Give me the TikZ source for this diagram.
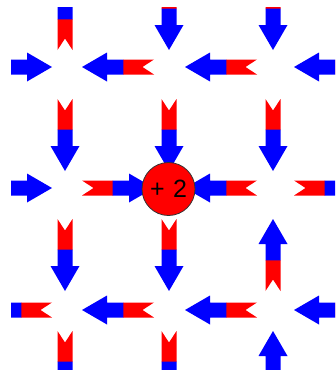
\documentclass[tikz,border=0pt]{standalone}
\usepackage{fontspec}
\usepackage{tikz}
\newfontfamily\chargefont{Liberation Sans}

\tikzset{
  spin/.pic={
    \fill[red] (-36,-7.5) -- (-5,-7.5) -- (-5,7.5) -- (-36,7.5) -- (-24.5,0) -- cycle;
    \fill[blue] (-5.3,-7.5) -- (11,-7.5) -- (11,-14.5) -- (36,0) -- (11,14.5) -- (11,7.5) -- (-5.3,7.5) -- cycle;
  },
  charge/.style={circle, fill=red, draw=black!80, line width=0.8pt, minimum size=53pt, inner sep=0pt, font=\chargefont\fontsize{25}{25}\selectfont}
}

\begin{document}
\begin{tikzpicture}[x=1pt, y=-1pt]
\useasboundingbox (0,0) rectangle (335,372);
\begin{scope}
\clip (11,7) rectangle (335,369);
\foreach \x/\a in {16/0, 118/180, 221/180, 330/180} \pic[rotate=\a] at (\x,67) {spin};
\foreach \x/\a in {16/0, 118/0, 221/180, 330/0} \pic[rotate=\a] at (\x,188) {spin};
\foreach \x/\a in {16/180, 118/180, 221/180, 330/180} \pic[rotate=\a] at (\x,310) {spin};
\foreach \y/\a in {14/90, 135/-90, 255/-90, 367/-90} \pic[rotate=\a] at (65,\y) {spin};
\foreach \y/\a in {14/-90, 135/-90, 255/-90, 367/-90} \pic[rotate=\a] at (169,\y) {spin};
\foreach \y/\a in {14/-90, 135/-90, 255/90, 367/90} \pic[rotate=\a] at (273,\y) {spin};
\end{scope}
\node[charge] (q) at (168.5,189) {+\,\,2};
\end{tikzpicture}
\end{document}
